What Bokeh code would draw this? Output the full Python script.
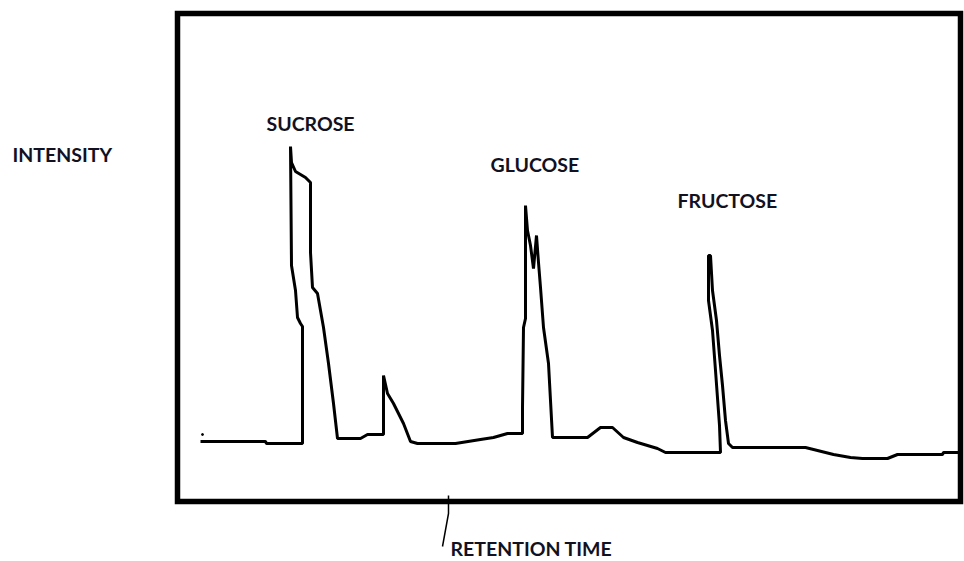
from bokeh.plotting import figure
from bokeh.models import Range1d
from bokeh.embed import file_html
from bokeh.resources import INLINE

# Chromatogram trace: retention time (min) vs intensity (arbitrary units)
retention_time = [1.15, 4.4, 4.45, 6.25, 6.25, 6.15, 6.0, 5.9, 5.7, 5.65, 5.7, 5.9, 6.4, 6.65,
                  6.65, 6.75, 7.0, 7.3, 7.55, 7.8, 8.0, 9.15, 9.5, 10.3, 10.3, 10.5, 10.8, 11.3,
                  11.65, 12.0, 13.9, 15.15, 15.8, 16.5, 17.25, 17.25, 17.3, 17.4, 17.4, 17.5,
                  17.65, 17.8, 17.95, 18.05, 18.15, 18.3, 18.55, 18.65, 18.75, 20.5, 21.15,
                  21.75, 22.3, 23.0, 24.0, 24.4, 27.15, 27.1, 26.9, 26.75, 26.55, 26.55, 26.65,
                  26.75, 26.95, 27.1, 27.25, 27.4, 27.55, 27.75, 31.4, 32.0, 32.8, 33.65, 34.25,
                  35.5, 36.0, 38.25, 38.3, 39.15]
intensity = [12.0, 12.0, 11.6, 11.6, 35.0, 35.6, 36.8, 42.2, 47.2, 71.0, 67.8, 66.0, 64.8, 63.8,
             49.8, 42.8, 41.6, 34.8, 27.6, 19.6, 12.6, 12.6, 13.4, 13.4, 25.2, 21.6, 19.6, 15.6,
             12.0, 11.6, 11.6, 12.4, 12.8, 13.6, 13.6, 18.8, 34.8, 36.6, 59.2, 54.2, 51.2, 46.6,
             53.2, 47.8, 42.8, 34.8, 27.6, 20.2, 12.8, 12.8, 14.8, 14.8, 12.8, 11.8, 10.6, 9.8,
             9.8, 15.2, 26.2, 34.2, 40.2, 49.2, 49.2, 42.2, 36.2, 29.2, 23.2, 16.2, 11.6, 10.8,
             10.8, 10.2, 9.4, 8.8, 8.6, 8.6, 9.4, 9.4, 9.8, 9.8]

stray_x = [1.25]
stray_y = [13.4]

# plotting window drawn as the chart's box
window_time = (0.0, 39.15)
window_intensity = (0.0, 97.6)

peak_names = ["SUCROSE", "GLUCOSE", "FRUCTOSE"]
peak_label_x = [4.45, 15.65, 25.0]
peak_label_y = [75.6, 67.5, 60.3]

y_title = "INTENSITY"
y_title_x = [-8.25]
y_title_y = [69.4]
x_title = "RETENTION TIME"
x_title_x = [13.65]
x_title_y = [-9.4]

# hand-drawn pointer from the time axis to its title
pointer_x = [13.55, 13.55, 13.25]
pointer_y = [1.2, -2.4, -9.0]

FONT = "Lato"
TXT = "#111122"
FS = "19.5px"

p = figure(width=964, height=561, output_backend="svg", toolbar_location=None,
           x_range=Range1d(-8.85, 39.35), y_range=Range1d(-12.0, 100.2),
           x_axis_location=None, y_axis_location=None,
           min_border=0, min_border_left=0, min_border_right=0,
           min_border_top=0, min_border_bottom=0)
p.grid.visible = False
p.outline_line_color = None
p.background_fill_color = "white"
p.border_fill_color = "white"

p.quad(left=[window_time[0]], right=[window_time[1]],
       bottom=[window_intensity[0]], top=[window_intensity[1]],
       fill_color=None, line_color="black", line_width=5.5, line_join="miter")

p.line(retention_time, intensity, line_color="black", line_width=3)
p.scatter(stray_x, stray_y, size=2, color="black")
p.line(pointer_x, pointer_y, line_color="black", line_width=1.5)

p.text(x=peak_label_x, y=peak_label_y, text=peak_names, text_font={"value": FONT},
       text_font_style="bold", text_font_size=FS, text_baseline="middle", text_color=TXT)
p.text(x=y_title_x, y=y_title_y, text=[y_title], text_font={"value": FONT},
       text_font_style="bold", text_font_size=FS, text_baseline="middle", text_color=TXT)
p.text(x=x_title_x, y=x_title_y, text=[x_title], text_font={"value": FONT},
       text_font_style="bold", text_font_size=FS, text_baseline="middle", text_color=TXT)

open("out.html", "w").write(file_html(p, INLINE))
